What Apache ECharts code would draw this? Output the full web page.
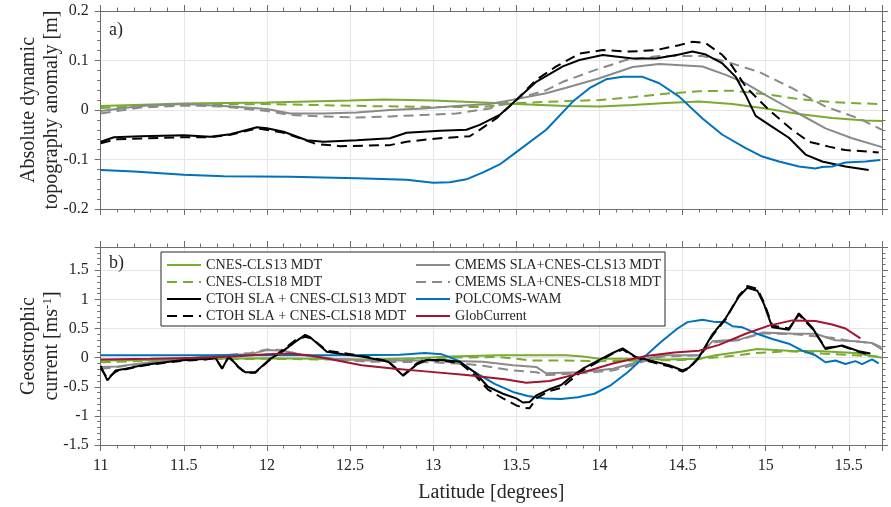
<!DOCTYPE html>
<html>
<head>
<meta charset="utf-8">
<script src="https://cdn.jsdelivr.net/npm/echarts@6/dist/echarts.min.js"></script>
<style>html,body{margin:0;padding:0;background:#fff}#c{width:891px;height:507px}</style>
</head>
<body>
<div id="c"></div>
<script>
// ---------- DATA ----------
// Panel a) absolute dynamic topography anomaly [m]
const aCLS13Lat = [11,11.5,12,12.5,12.7,13,13.3,13.5,13.8,14,14.2,14.4,14.6,14.8,15,15.2,15.4,15.6,15.7];
const aCLS13Val = [0.008,0.013,0.015,0.019,0.021,0.019,0.015,0.012,0.008,0.007,0.010,0.014,0.017,0.012,0.003,-0.008,-0.016,-0.021,-0.022];
const aCLS18Lat = [11,11.5,12,12.3,12.6,13,13.3,13.5,13.8,14,14.2,14.4,14.6,14.8,15,15.2,15.4,15.6,15.7];
const aCLS18Val = [0.004,0.011,0.012,0.010,0.008,0.006,0.006,0.014,0.018,0.020,0.026,0.033,0.038,0.039,0.032,0.022,0.016,0.013,0.012];
const aCM13Lat = [11,11.24,11.5,11.74,12,12.14,12.34,12.54,12.74,12.94,13.14,13.34,13.5,13.68,13.8,14,14.2,14.36,14.62,14.76,14.88,15,15.16,15.36,15.52,15.7];
const aCM13Val = [-0.002,0.008,0.012,0.008,0.002,-0.007,-0.007,-0.005,0,0.003,0.008,0.012,0.022,0.034,0.045,0.064,0.087,0.093,0.088,0.071,0.054,0.030,0,-0.037,-0.057,-0.075];
const aCM18Lat = [11,11.24,11.5,11.74,12,12.14,12.34,12.54,12.74,12.94,13.14,13.34,13.5,13.68,13.78,13.96,14.16,14.36,14.62,14.76,14.96,15.16,15.36,15.56,15.7];
const aCM18Val = [-0.007,0.005,0.009,0.007,-0.002,-0.010,-0.013,-0.015,-0.013,-0.010,-0.007,0.003,0.022,0.040,0.057,0.079,0.101,0.109,0.109,0.098,0.077,0.044,0.007,-0.017,-0.040];
const aCT13Lat = [11,11.08,11.24,11.5,11.66,11.78,11.94,12,12.1,12.24,12.34,12.54,12.74,12.84,13.04,13.2,13.28,13.4,13.5,13.62,13.78,13.88,14.02,14.2,14.34,14.48,14.56,14.64,14.74,14.82,14.88,14.94,15.04,15.14,15.24,15.34,15.48,15.62];
const aCT13Val = [-0.064,-0.055,-0.053,-0.051,-0.054,-0.049,-0.035,-0.037,-0.044,-0.061,-0.064,-0.061,-0.057,-0.046,-0.042,-0.040,-0.030,-0.010,0.020,0.057,0.088,0.101,0.111,0.104,0.104,0.112,0.118,0.112,0.094,0.067,0.030,-0.012,-0.034,-0.056,-0.090,-0.104,-0.114,-0.121];
const aCT18Lat = [11,11.1,11.5,11.66,11.78,11.94,12.1,12.3,12.44,12.74,12.84,13.04,13.22,13.28,13.38,13.5,13.62,13.74,13.88,14.02,14.18,14.34,14.48,14.56,14.64,14.74,14.8,14.88,14.96,15.02,15.16,15.26,15.38,15.48,15.62,15.68];
const aCT18Val = [-0.067,-0.059,-0.055,-0.055,-0.050,-0.037,-0.046,-0.069,-0.073,-0.071,-0.064,-0.057,-0.053,-0.040,-0.017,0.020,0.061,0.088,0.114,0.121,0.118,0.121,0.131,0.138,0.135,0.111,0.088,0.047,0.020,0,-0.040,-0.064,-0.074,-0.081,-0.084,-0.086];
const aPolLat = [11,11.2,11.5,11.74,12.14,12.54,12.84,13,13.1,13.2,13.3,13.4,13.5,13.68,13.84,13.94,14.04,14.14,14.26,14.36,14.48,14.62,14.74,14.88,14.98,15.08,15.2,15.3,15.34,15.4,15.48,15.6,15.69];
const aPolVal = [-0.121,-0.124,-0.131,-0.134,-0.135,-0.138,-0.141,-0.147,-0.146,-0.140,-0.126,-0.110,-0.085,-0.040,0.017,0.044,0.062,0.067,0.067,0.054,0.027,-0.017,-0.050,-0.077,-0.094,-0.104,-0.114,-0.118,-0.115,-0.114,-0.106,-0.104,-0.101];

// Panel b) geostrophic current [m/s]
const bCLS13Lat = [11,11.3,11.6,12,12.3,12.6,12.9,13.1,13.4,13.6,13.8,13.9,14,14.2,14.4,14.6,14.7,14.85,14.95,15.14,15.34,15.54,15.7];
const bCLS13Val = [-0.05,-0.04,-0.02,-0.01,-0.02,-0.03,-0.01,0.02,0.04,0.04,0.04,0.02,-0.02,-0.02,-0.03,-0.02,0.04,0.10,0.15,0.12,0.11,0.08,0.0];
const bCLS18Lat = [11,11.2,11.5,12,12.3,12.6,12.9,13.1,13.4,13.6,13.8,14,14.3,14.5,14.74,14.94,15.14,15.34,15.54,15.68];
const bCLS18Val = [-0.08,-0.06,-0.03,-0.02,-0.03,-0.04,-0.02,0.0,0.01,-0.05,-0.05,-0.06,-0.05,-0.04,0.01,0.08,0.11,0.07,0.04,0.02];
const bCM13Lat = [11,11.1,11.3,11.5,11.7,11.9,12,12.1,12.2,12.4,12.6,13,13.3,13.48,13.62,13.68,13.88,14.08,14.2,14.28,14.38,14.6,14.68,14.84,14.98,15.18,15.3,15.42,15.54,15.64,15.7];
const bCM13Val = [-0.16,-0.15,-0.08,-0.02,0.04,0.06,0.13,0.12,0.05,-0.02,-0.05,-0.05,-0.07,-0.13,-0.16,-0.27,-0.25,-0.19,-0.10,-0.02,0.04,0.04,0.28,0.31,0.43,0.41,0.41,0.30,0.28,0.25,0.14];
const bCM18Lat = [11,11.1,11.3,11.5,11.7,11.9,12,12.1,12.2,12.4,12.6,13,13.2,13.3,13.48,13.62,13.68,13.88,14.08,14.2,14.28,14.38,14.6,14.68,14.84,14.98,15.18,15.4,15.5,15.64,15.7];
const bCM18Val = [-0.19,-0.16,-0.09,-0.03,0.03,0.08,0.14,0.13,0.05,-0.03,-0.07,-0.08,-0.11,-0.14,-0.22,-0.25,-0.30,-0.27,-0.22,-0.13,-0.05,0.02,0.04,0.26,0.30,0.42,0.40,0.34,0.29,0.25,0.17];
const bCT13Lat = [11,11.04,11.09,11.15,11.27,11.47,11.63,11.69,11.73,11.77,11.83,11.87,11.93,12.02,12.09,12.17,12.23,12.26,12.36,12.46,12.57,12.73,12.82,12.9,12.96,13.06,13.16,13.25,13.33,13.42,13.5,13.54,13.58,13.62,13.7,13.77,13.83,13.9,13.98,14.08,14.14,14.22,14.32,14.42,14.5,14.54,14.6,14.68,14.76,14.84,14.89,14.95,14.99,15.04,15.14,15.2,15.28,15.36,15.46,15.56,15.63];
const bCT13Val = [-0.14,-0.39,-0.22,-0.19,-0.12,-0.05,-0.02,0.0,-0.19,0.02,-0.16,-0.25,-0.25,-0.02,0.10,0.27,0.39,0.35,0.10,0.06,0.02,-0.07,-0.31,-0.12,-0.04,-0.04,-0.07,-0.25,-0.50,-0.62,-0.70,-0.77,-0.76,-0.65,-0.54,-0.47,-0.33,-0.19,-0.07,0.08,0.16,0.01,-0.06,-0.13,-0.22,-0.17,0.01,0.40,0.68,1.05,1.20,1.15,0.92,0.52,0.48,0.76,0.52,0.15,0.21,0.11,0.07];
const bCT18Lat = [11,11.04,11.09,11.15,11.27,11.47,11.63,11.69,11.73,11.77,11.83,11.87,11.93,12.02,12.09,12.17,12.23,12.27,12.36,12.46,12.57,12.73,12.82,12.9,12.96,13.06,13.16,13.25,13.33,13.42,13.5,13.54,13.58,13.62,13.7,13.77,13.83,13.9,13.98,14.08,14.14,14.22,14.32,14.42,14.5,14.54,14.6,14.68,14.76,14.84,14.89,14.95,14.99,15.04,15.14,15.2,15.28,15.36,15.46,15.56,15.63];
const bCT18Val = [-0.18,-0.36,-0.24,-0.20,-0.13,-0.06,-0.03,-0.01,-0.18,0.01,-0.17,-0.26,-0.26,-0.03,0.12,0.30,0.36,0.33,0.12,0.08,0.03,-0.06,-0.30,-0.10,-0.03,-0.06,-0.09,-0.30,-0.55,-0.70,-0.82,-0.86,-0.87,-0.70,-0.57,-0.52,-0.38,-0.22,-0.09,0.07,0.14,0.0,-0.08,-0.15,-0.24,-0.18,0.0,0.38,0.66,1.07,1.23,1.18,0.95,0.55,0.50,0.74,0.50,0.17,0.20,0.10,0.05];
const bPolLat = [11,11.5,12,12.5,12.8,12.95,13.05,13.15,13.25,13.37,13.49,13.57,13.67,13.77,13.87,13.97,14.07,14.17,14.27,14.37,14.47,14.53,14.62,14.7,14.76,14.8,14.86,14.94,15.04,15.14,15.22,15.3,15.36,15.42,15.48,15.54,15.58,15.64,15.68];
const bPolVal = [0.04,0.04,0.04,0.04,0.05,0.08,0.06,-0.05,-0.25,-0.45,-0.60,-0.66,-0.70,-0.71,-0.68,-0.62,-0.47,-0.25,0.01,0.27,0.50,0.61,0.65,0.61,0.61,0.54,0.52,0.42,0.32,0.24,0.12,0.04,-0.08,-0.05,-0.11,-0.06,-0.11,-0.03,-0.10];
const bGlobLat = [11,11.3,11.6,11.8,12,12.14,12.25,12.37,12.57,12.77,12.97,13.2,13.43,13.56,13.7,13.88,14.08,14.28,14.45,14.6,14.72,14.88,15.02,15.16,15.3,15.4,15.48,15.57];
const bGlobVal = [-0.03,-0.02,0.0,0.02,0.06,0.07,0.04,-0.02,-0.13,-0.19,-0.24,-0.30,-0.37,-0.43,-0.40,-0.27,-0.10,0.03,0.09,0.12,0.22,0.41,0.55,0.64,0.63,0.57,0.50,0.33];

// tick labels / names
const seriesNames = ['CNES-CLS13 MDT','CNES-CLS18 MDT','CTOH SLA + CNES-CLS13 MDT','CTOH SLA + CNES-CLS18 MDT',
  'CMEMS SLA+CNES-CLS13 MDT','CMEMS SLA+CNES-CLS18 MDT','POLCOMS-WAM','GlobCurrent'];

// ---------- STYLE ----------
const FONT = '"Liberation Serif","Times New Roman",serif';
const TXT = '#262626';
const AX = '#6e6e6e';
const C = {green:'#77AC30', grey:'#8a8a8a', black:'#000000', blue:'#0072BD', red:'#A2142F'};
const DASH = [10,6];
const zip = (a,b) => a.map((x,i)=>[x,b[i]]);

function mkSeries(name, lat, val, color, dashed, xi, yi, z){
  return {name, type:'line', xAxisIndex:xi, yAxisIndex:yi, data:zip(lat,val), symbol:'none',
    smooth:false, animation:false, z:z||2,
    lineStyle:{color, width:2, type: dashed?DASH:'solid'}, itemStyle:{color}};
}

function xAx(grid, pos, labels){
  return {type:'value', gridIndex:grid, position:pos, min:11, max:15.7, interval:0.5,
    axisLine:{onZero:false, lineStyle:{color:AX, width:1}},
    axisTick:{show:true, inside:false, length:6, lineStyle:{color:AX}},
    minorTick:{show:true, splitNumber:5, length:3.5, lineStyle:{color:AX}},
    splitLine:{show: pos==='bottom', lineStyle:{color:'#e6e6e6', width:1}},
    axisLabel:{show:labels, showMaxLabel:false, margin:13, color:TXT, fontFamily:FONT, fontSize:16},
    name: labels ? 'Latitude [degrees]' : '', nameLocation:'middle', nameGap:38, nameMoveOverlap:false,
    nameTextStyle:{color:TXT, fontFamily:FONT, fontSize:20}
  };
}
function yAx(grid, pos, min, max, interval, labels, name){
  return {type:'value', gridIndex:grid, position:pos, min, max, interval,
    axisLine:{onZero:false, lineStyle:{color:AX, width:1}},
    axisTick:{show:true, inside:false, length:6, lineStyle:{color:AX}},
    minorTick:{show:true, splitNumber:5, length:3.5, lineStyle:{color:AX}},
    splitLine:{show: pos==='left', lineStyle:{color:'#e6e6e6', width:1}},
    axisLabel:{show:labels, showMaxLabel: max<1, margin:12, color:TXT, fontFamily:FONT, fontSize:16},
    name: name||'', nameLocation:'middle', nameGap:37, nameRotate:90, nameMoveOverlap:false,
    nameTextStyle:{color:TXT, fontFamily:FONT, fontSize:20, lineHeight:23,
      rich:{sup:{fontSize:13, fontFamily:FONT, color:TXT, verticalAlign:'top', lineHeight:23, padding:[0,0,6,0]}}}
  };
}

const G = [
  {left:100.7, right:9, top:11, height:198},
  {left:100.7, right:9, top:247, height:198}
];

const series = [
  mkSeries(seriesNames[0], aCLS13Lat, aCLS13Val, C.green, false, 0, 0),
  mkSeries(seriesNames[1], aCLS18Lat, aCLS18Val, C.green, true, 0, 0),
  mkSeries(seriesNames[4], aCM13Lat, aCM13Val, C.grey, false, 0, 0),
  mkSeries(seriesNames[5], aCM18Lat, aCM18Val, C.grey, true, 0, 0),
  mkSeries(seriesNames[2], aCT13Lat, aCT13Val, C.black, false, 0, 0),
  mkSeries(seriesNames[3], aCT18Lat, aCT18Val, C.black, true, 0, 0),
  mkSeries(seriesNames[6], aPolLat, aPolVal, C.blue, false, 0, 0),

  mkSeries(seriesNames[0], bCLS13Lat, bCLS13Val, C.green, false, 2, 2),
  mkSeries(seriesNames[1], bCLS18Lat, bCLS18Val, C.green, true, 2, 2),
  mkSeries(seriesNames[4], bCM13Lat, bCM13Val, C.grey, false, 2, 2),
  mkSeries(seriesNames[5], bCM18Lat, bCM18Val, C.grey, true, 2, 2),
  mkSeries(seriesNames[6], bPolLat, bPolVal, C.blue, false, 2, 2),
  mkSeries(seriesNames[2], bCT13Lat, bCT13Val, C.black, false, 2, 2),
  mkSeries(seriesNames[3], bCT18Lat, bCT18Val, C.black, true, 2, 2),
  mkSeries(seriesNames[7], bGlobLat, bGlobVal, C.red, false, 2, 2)
];

const legendCommon = {orient:'vertical', top:257, padding:0, itemWidth:34, itemHeight:12, itemGap:1,
  itemStyle:{opacity:0},
  textStyle:{fontFamily:FONT, fontSize:14.2, color:TXT, lineHeight:16}, selectedMode:false, z:10};

const chart = echarts.init(document.getElementById('c'), null, {renderer:'canvas'});
chart.setOption({
  backgroundColor:'#fff',
  animation:false,
  grid:G,
  xAxis:[xAx(0,'bottom',false), xAx(0,'top',false), xAx(1,'bottom',true), xAx(1,'top',false)],
  yAxis:[
    yAx(0,'left',-0.2,0.2,0.1,true,'Absolute dynamic\ntopography anomaly [m]'),
    yAx(0,'right',-0.2,0.2,0.1,false),
    yAx(1,'left',-1.5,1.9,0.5,true,'Geostrophic\ncurrent [ms{sup|-1}]'),
    yAx(1,'right',-1.5,1.9,0.5,false)
  ],
  legend:[
    Object.assign({left:166, data:seriesNames.slice(0,4)}, legendCommon),
    Object.assign({left:415, data:seriesNames.slice(4,8)}, legendCommon)
  ],
  graphic:[
    {type:'rect', z:8, shape:{x:161, y:252, width:504, height:74}, style:{fill:'#fff', stroke:'#262626', lineWidth:1}},
    {type:'text', z:9, left:109, top:21, style:{text:'a)', fontFamily:FONT, fontSize:18, fill:TXT}},
    {type:'text', z:9, left:109, top:254, style:{text:'b)', fontFamily:FONT, fontSize:18, fill:TXT}}
  ],
  series
});
</script>
</body>
</html>
